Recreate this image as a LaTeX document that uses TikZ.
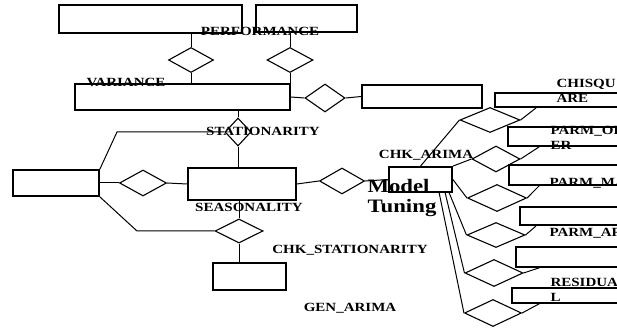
\documentclass[tikz,border=0pt]{standalone}
\usepackage{fontspec}
\newfontfamily\erfont[FakeStretch=1.2]{Liberation Serif}
\usetikzlibrary{shapes,arrows,positioning,calc}

\begin{document}
\begin{tikzpicture}[x=1pt, y=-1pt, line width=1pt,
        entity/.style={draw, line width=1.7pt, inner sep=0pt},
        rel/.style={diamond, draw, inner sep=0pt, line width=1.1pt},
        lbl/.style={font=\erfont\bfseries\fontsize{12.5}{15}\selectfont, inner sep=0pt, align=left}]
    \useasboundingbox (0,0) rectangle (617,328);

    % entities - the boxes, named after their place or label
    \node[entity, minimum width=183, minimum height=28] (perf-l) at (150.5,19) {};
    \node[entity, minimum width=101, minimum height=27] (perf-r) at (306.5,18.5) {};
    \node[entity, minimum width=215, minimum height=26] (variance) at (182.5,97) {};
    \node[entity, minimum width=120, minimum height=23] (var-r) at (422,96.5) {};
    \node[entity, minimum width=86, minimum height=26] (left) at (56,183) {};
    \node[entity, minimum width=108, minimum height=32] (season) at (242,184) {};
    \node[entity, minimum width=73, minimum height=27] (chk-stat) at (249.5,276.5) {};
    \node[entity, minimum width=63, minimum height=25] (chk-arima) at (420.5,179.5) {};
    \node[entity, minimum width=145, minimum height=14] (chisq) at (567.5,100) {};
    \node[entity, minimum width=132, minimum height=19] (order) at (574,136.5) {};
    \node[entity, minimum width=131, minimum height=20] (parm-ma) at (574.5,175) {};
    \node[entity, minimum width=120, minimum height=18] (parm-ar) at (580,216) {};
    \node[entity, minimum width=124, minimum height=20] (blank) at (578,257) {};
    \node[entity, minimum width=128, minimum height=15] (resid) at (576,295.5) {};

    % relationships - the diamonds
    \node[rel, minimum width=45, minimum height=25] (d-perf-l) at (191,60) {};
    \node[rel, minimum width=46, minimum height=25] (d-perf-r) at (290,60) {};
    \node[rel, minimum width=40, minimum height=28] (d-var-r) at (325,98) {};
    \node[rel, minimum width=26, minimum height=28] (d-stat) at (238,132) {};
    \node[rel, minimum width=47, minimum height=26] (d-left) at (143,183) {};
    \node[rel, minimum width=48, minimum height=24] (d-season) at (239,231) {};
    \node[rel, minimum width=45, minimum height=26] (d-tune) at (342,181) {};
    \node[rel, minimum width=60, minimum height=25] (d-a) at (490,120) {};
    \node[rel, minimum width=48, minimum height=26] (d-b) at (496,159) {};
    \node[rel, minimum width=59, minimum height=27] (d-c) at (497,198) {};
    \node[rel, minimum width=58, minimum height=25] (d-d) at (496,235) {};
    \node[rel, minimum width=58, minimum height=27] (d-e) at (494,273) {};
    \node[rel, minimum width=57, minimum height=27] (d-f) at (493,313) {};

    \coordinate (stat-bend) at (117,132);
    \coordinate (seas-bend) at (137,231);

    % connectors
    \draw (d-perf-l.north) -- (d-perf-l.north |- perf-l.south);     % up to left top box
    \draw (d-perf-l.south) -- (d-perf-l.south |- variance.north);
    \draw (d-perf-r.north) -- (d-perf-r.north |- perf-r.south);     % up to right top box
    \draw (d-perf-r.south) -- (d-perf-r.south |- variance.north);
    \draw (variance.east) -- (d-var-r.west);
    \draw (d-var-r.east) -- (var-r.west);
    \draw (d-stat.north) -- (d-stat.north |- variance.south);
    \draw (d-stat.south) -- (d-stat.south |- season.north);
    \draw (left.north east) -- (stat-bend) -- (d-stat.west);        % left box up to stationarity
    \draw (left.east) -- (d-left.west);
    \draw (d-left.east) -- (season.west);
    \draw (left.south east) -- (seas-bend) -- (d-season.west);      % left box down to the check
    \draw (d-season.north) -- (d-season.north |- season.south);
    \draw (d-season.south) -- (d-season.south |- chk-stat.north);
    \draw (season.east) -- (d-tune.west);
    \draw (d-tune.east) -- (chk-arima.west);

    % fan out of the arima check
    \draw (chk-arima.north) -- (d-a.west);
    \draw (chk-arima.north east) -- (d-b.west);
    \draw (chk-arima.east) -- (d-c.west);
    \draw ([xshift=61]chk-arima.south west) -- (d-d.west);
    \draw ([xshift=57]chk-arima.south west) -- (d-e.west);
    \draw ([xshift=51]chk-arima.south west) -- (d-f.west);
    \draw (d-a.east) -- ([xshift=42]chisq.south west);
    \draw (d-b.east) -- ([xshift=32]order.south west);
    \draw (d-c.east) -- ([xshift=31]parm-ma.south west);
    \draw (d-d.east) -- ([xshift=17]parm-ar.south west);
    \draw (d-e.east) -- ([xshift=24]blank.south west);
    \draw (d-f.east) -- ([xshift=28]resid.south west);

    % labels
    \node[lbl] (l-perf) at (260,31) {PERFORMANCE};
    \node[lbl] (l-var) at (126,82) {VARIANCE};
    \node[lbl] (l-stat) at (263,131) {STATIONARITY};
    \node[lbl] (l-season) at (249,207) {SEASONALITY};
    \node[lbl] (l-chk-stat) at (350,250) {CHK\_STATIONARITY};
    \node[lbl] (l-gen) at (350,308) {GEN\_ARIMA};
    \node[lbl] (l-chk-arima) at (426,155) {CHK\_ARIMA};
    \node[lbl, anchor=west] (l-chisq) at (556,91) {CHISQU\\ARE};
    \node[lbl, anchor=west] (l-order) at (550,138) {PARM\_ORD\\ER};
    \node[lbl, anchor=west] (l-ma) at (549,183) {PARM\_MA};
    \node[lbl, anchor=west] (l-ar) at (549,233) {PARM\_AR};
    \node[lbl, anchor=west] (l-resid) at (550,290) {RESIDUA\\L};
    \node[font=\erfont\bfseries\fontsize{19}{20}\selectfont, inner sep=0pt, align=left, anchor=west] (l-tune) at (367,198) {Model\\Tuning};
\end{tikzpicture}
\end{document}
